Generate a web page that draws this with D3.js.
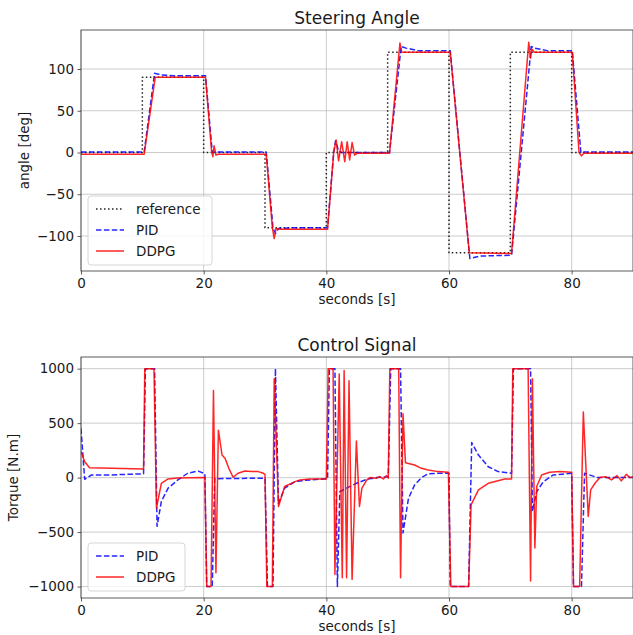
<!DOCTYPE html>
<html><head><meta charset="utf-8">
<script src="https://cdn.jsdelivr.net/npm/d3@7"></script>
<style>
body{margin:0;background:#fff;}
text{font-family:"DejaVu Sans",sans-serif;fill:#1a1a1a;}
</style></head><body>
<svg id="c" width="633" height="635"></svg>
<script>
// ---------- DATA ----------
const xTicks = [0, 20, 40, 60, 80];
const angleTicks = [-100, -50, 0, 50, 100];
const torqueTicks = [-1000, -500, 0, 500, 1000];

const refAngle = [[0,0],[10,0],[10,90],[20,90],[20,0],[30,0],[30,-90],[40,-90],[40,0],[50,0],[50,120],[60,120],[60,-120],[70,-120],[70,120],[80,120],[80,0],[90,0]];

const pidAngle = [[0,0.5],[10.3,0.5],[12.0,95],[13,93],[15,92],[20.3,92],[21.4,0],[22,0.5],[30.2,0.5],[31.3,-90],[31.7,-97],[32.2,-91],[35,-90],[40.2,-90],[41.2,0],[41.5,14],[42.0,2],[42.5,0],[50.3,0],[52.2,127],[53,125],[55,122],[60.2,122],[63.4,-127],[65,-124],[70.2,-123],[73.4,127],[74,125],[76,122],[80.1,122],[81.5,0],[82,0.5],[90,0.5]];

const ddpgAngle = [[0,-2],[10.3,-2],[12.1,90],[12.5,90],[20.3,90],[21.3,1],[21.5,-5],[21.7,8],[22.0,-3],[22.4,-2],[30.2,-2],[31.2,-90],[31.5,-103],[31.8,-91],[32.5,-92],[40.2,-92],[41.2,0],[41.6,15],[42.0,-10],[42.5,13],[43.0,-11],[43.4,13],[43.8,-9],[44.2,12],[44.6,-3],[45.0,-1],[50.3,-1],[52.0,131],[52.3,120],[60.2,120],[63.3,-120],[70.2,-121],[73.0,132],[73.3,113],[73.5,124],[73.9,120],[80.1,120],[81.2,0],[81.6,-4],[82.0,-1],[90,-1]];

const pidTorque = [[0,450],[0.6,-15],[1.7,24],[5,25],[10.2,35],[10.5,1000],[12.0,1000],[12.4,-447],[13.1,-219],[14.2,-97],[15.8,-21],[17.4,40],[19.1,60],[20.2,35],[20.5,-1000],[21.4,-1000],[21.8,-10],[30.0,-5],[30.4,-1000],[31.3,-1000],[31.7,1000],[32.2,-240],[33.2,-97],[34.9,-37],[36.5,-25],[40.2,-10],[40.5,1000],[41.4,1000],[41.8,-1000],[42.2,-130],[43.3,-97],[44.9,-52],[46.6,-15],[48.2,0],[50.1,9],[50.5,1000],[52.1,1000],[52.5,-508],[53.4,-189],[54.4,-67],[55.5,0],[56.6,35],[58.2,40],[60.0,40],[60.2,-1000],[63.2,-1000],[63.7,322],[64.8,207],[66.4,100],[68.0,55],[70.2,40],[70.5,1000],[73.3,1000],[73.6,-310],[74.3,-128],[75.4,-37],[77.0,24],[80.0,40],[80.3,-1000],[81.6,-1000],[82.1,40],[84.2,0],[90,0]];

const ddpgTorque = [[0,240],[0.6,146],[1.4,91],[5,85],[10.2,80],[10.4,1000],[11.9,1000],[12.3,-280],[13.1,-52],[14.2,-12],[15.8,-3],[20.2,0],[20.5,-1000],[21.2,-1000],[21.6,800],[22.0,-873],[22.4,435],[23.0,207],[23.5,176],[24.1,85],[24.8,3],[25.6,40],[26.7,61],[27.8,55],[28.9,55],[29.7,40],[30.0,30],[30.3,-1000],[31.2,-1000],[31.5,907],[32.2,-265],[33.2,-82],[34.9,-37],[35.7,-21],[37.3,-12],[40.0,-12],[40.3,1000],[41.1,1000],[41.4,-889],[42.1,950],[42.6,-919],[42.9,983],[43.3,-919],[43.7,890],[44.2,-934],[44.9,335],[45.4,-265],[45.8,-97],[46.6,-21],[47.1,0],[48.2,-5],[48.7,9],[49.3,-12],[49.8,18],[50.1,-5],[50.35,1000],[51.8,1000],[52.1,-919],[52.5,587],[52.9,137],[54.4,116],[55.5,85],[56.6,70],[58.2,55],[59.9,49],[60.3,-1000],[63.2,-1000],[63.6,-250],[64.8,-113],[66.4,-52],[69.1,-12],[70.2,-12],[70.4,1000],[72.9,1000],[73.3,-950],[73.6,907],[74.0,-645],[74.3,-82],[75.1,24],[76.4,49],[78.1,55],[80.0,50],[80.3,-1000],[81.3,-1000],[81.9,603],[82.7,-356],[83.1,-113],[83.8,-52],[84.6,0],[85.5,9],[86.5,-21],[87.4,18],[88.1,-30],[88.9,30],[89.5,0],[90,5]];

// ---------- DRAW ----------
const svg = d3.select("#c");
const styles = {
  ref:  {stroke:"#222", dash:"1.5,2.5", width:1.5, opacity:1},
  pid:  {stroke:"#0000ff", dash:"5.5,2.4", width:1.5, opacity:0.85},
  ddpg: {stroke:"#ff0000", dash:null, width:1.5, opacity:0.85}
};

function panel(cfg){
  const g = svg.append("g");
  const x = d3.scaleLinear().domain([0,90]).range([81,633]);
  const y = d3.scaleLinear().domain(cfg.yDomain).range([cfg.bottom, cfg.top]);

  // grid
  g.append("g").selectAll("line").data(xTicks).join("line")
    .attr("x1",d=>x(d)).attr("x2",d=>x(d)).attr("y1",cfg.top).attr("y2",cfg.bottom)
    .attr("stroke","#b0b0b0").attr("stroke-width",0.8).attr("opacity",0.8);
  g.append("g").selectAll("line").data(cfg.yTicks).join("line")
    .attr("x1",81).attr("x2",633).attr("y1",d=>y(d)).attr("y2",d=>y(d))
    .attr("stroke","#b0b0b0").attr("stroke-width",0.8).attr("opacity",0.8);

  const clipId = "clip"+cfg.id;
  svg.append("clipPath").attr("id",clipId).append("rect")
    .attr("x",81).attr("y",cfg.top).attr("width",552).attr("height",cfg.bottom-cfg.top);

  const line = d3.line().x(d=>x(d[0])).y(d=>y(d[1]));
  const lg = g.append("g").attr("clip-path",`url(#${clipId})`);
  cfg.series.forEach(s=>{
    const st = styles[s.key];
    lg.append("path").datum(s.data).attr("d",line).attr("fill","none")
      .attr("stroke",st.stroke).attr("stroke-width",st.width)
      .attr("stroke-dasharray",st.dash).attr("opacity",st.opacity)
      .attr("stroke-linejoin","round");
  });

  // axes
  const fmt = d=> d<0 ? "\u2212"+Math.abs(d) : String(d);
  const xa = g.append("g").attr("transform",`translate(0,${cfg.bottom})`)
    .call(d3.axisBottom(x).tickValues(xTicks).tickSize(3.5).tickPadding(3.5).tickFormat(fmt));
  const ya = g.append("g").attr("transform",`translate(81,0)`)
    .call(d3.axisLeft(y).tickValues(cfg.yTicks).tickSize(3.5).tickPadding(3.5).tickFormat(fmt));
  [xa,ya].forEach(a=>{
    a.select(".domain").remove();
    a.selectAll("line").attr("stroke","#333").attr("stroke-width",0.8);
    a.selectAll("text").attr("font-size","13.5px").attr("fill","#1a1a1a")
      .attr("font-family","DejaVu Sans");
  });
  // spines
  g.append("rect").attr("x",81).attr("y",cfg.top).attr("width",552).attr("height",cfg.bottom-cfg.top)
    .attr("fill","none").attr("stroke","#333").attr("stroke-width",0.8);

  g.append("text").attr("x",357).attr("y",cfg.top-6).attr("text-anchor","middle")
    .attr("font-size","17px").text(cfg.title);
  g.append("text").attr("x",357).attr("y",cfg.bottom+33).attr("text-anchor","middle")
    .attr("font-size","13.5px").text("seconds [s]");
  g.append("text").attr("transform",`translate(${cfg.ylabelX},${(cfg.top+cfg.bottom)/2}) rotate(-90)`)
    .attr("text-anchor","middle").attr("font-size","13.5px").text(cfg.ylabel);

  // legend
  const L = cfg.legend;
  const lgd = g.append("g");
  lgd.append("rect").attr("x",L.x).attr("y",L.y).attr("width",L.w).attr("height",L.h)
    .attr("rx",3).attr("fill","#fff").attr("fill-opacity",0.8)
    .attr("stroke","#cccccc").attr("stroke-width",0.8);
  L.items.forEach((it,i)=>{
    const st = styles[it.key];
    const yy = L.y + 13 + i*21;
    lgd.append("line").attr("x1",L.x+8).attr("x2",L.x+36).attr("y1",yy).attr("y2",yy)
      .attr("stroke",st.stroke).attr("stroke-width",st.width)
      .attr("stroke-dasharray",st.dash).attr("opacity",st.opacity);
    lgd.append("text").attr("x",L.x+48).attr("y",yy+5).attr("font-size","13.5px").text(it.label);
  });
}

panel({id:1, top:30, bottom:271, yDomain:[-141.9,146.7], yTicks:angleTicks,
  title:"Steering Angle", ylabel:"angle [deg]", ylabelX:29,
  series:[{key:"ref",data:refAngle},{key:"pid",data:pidAngle},{key:"ddpg",data:ddpgAngle}],
  legend:{x:88,y:196,w:124,h:69,items:[{key:"ref",label:"reference"},{key:"pid",label:"PID"},{key:"ddpg",label:"DDPG"}]}
});
panel({id:2, top:357, bottom:598, yDomain:[-1105,1107], yTicks:torqueTicks,
  title:"Control Signal", ylabel:"Torque [N.m]", ylabelX:18,
  series:[{key:"pid",data:pidTorque},{key:"ddpg",data:ddpgTorque}],
  legend:{x:88,y:543,w:97,h:48,items:[{key:"pid",label:"PID"},{key:"ddpg",label:"DDPG"}]}
});
</script>
</body></html>
